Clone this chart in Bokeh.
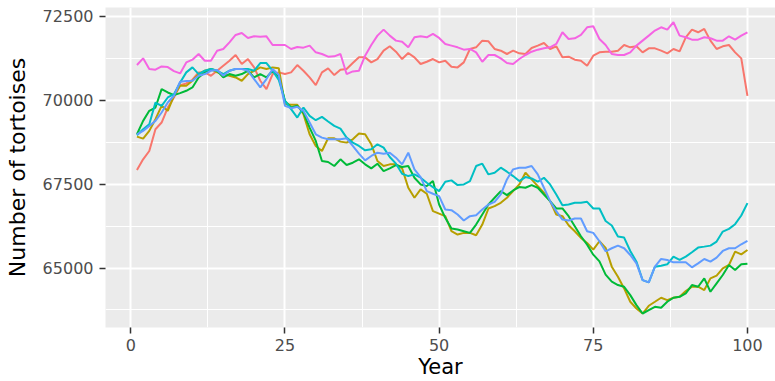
from bokeh.plotting import figure
from bokeh.models import FixedTicker, Range1d
from bokeh.embed import file_html
from bokeh.resources import INLINE

years = list(range(1, 101))

series_red = [67918, 68237, 68486, 69134, 69333, 69781, 70080, 70448, 70498, 70608,
              70827, 70827, 70727, 70876, 71026, 71175, 71345, 71076, 71225, 70976,
              70578, 70329, 70777, 70827, 70777, 70827, 71046, 70876, 70677, 70448,
              70827, 70946, 70747, 70906, 70926, 71106, 71275, 71275, 71125, 71225,
              71474, 71604, 71444, 71225, 71404, 71275, 71076, 71145, 71225, 71125,
              71175, 70996, 70976, 71125, 71524, 71574, 71773, 71753, 71524, 71474,
              71375, 71474, 71394, 71375, 71554, 71624, 71703, 71524, 71604, 71275,
              71295, 71205, 71175, 71026, 71325, 71424, 71444, 71444, 71474, 71643,
              71574, 71604, 71424, 71544, 71544, 71474, 71395, 71524, 71454, 71873,
              72102, 72022, 72122, 71773, 71524, 71604, 71643, 71424, 71245, 70130]

series_olive = [68914, 68854, 69084, 69433, 69831, 69682, 70130, 70428, 70428, 70578,
                70777, 70876, 70926, 70827, 70777, 70727, 70677, 70578, 70777, 70876,
                70976, 70926, 70976, 70950, 69880, 69861, 69861, 69582, 68984, 68635,
                68486, 68865, 68865, 68765, 68735, 68835, 69004, 68984, 68685, 68187,
                68038, 68088, 68088, 67968, 67390, 67092, 67341, 67211, 66693, 66620,
                66544, 66096, 65996, 66046, 66046, 65976, 66295, 66773, 66843, 66942,
                67092, 67291, 67490, 67839, 67639, 67440, 67241, 66992, 66594, 66544,
                66275, 66096, 65896, 65747, 65548, 65797, 65598, 65040, 64741, 64392,
                63994, 63795, 63645, 63875, 63994, 64114, 64044, 64114, 64143, 64313,
                64442, 64442, 64343, 64691, 64771, 64990, 65090, 65488, 65408, 65538]

series_green = [68984, 69383, 69682, 69781, 70329, 70229, 70150, 70209, 70279, 70378,
                70677, 70827, 70926, 70876, 70677, 70777, 70727, 70777, 70876, 70677,
                70777, 70677, 70876, 70700, 69980, 69781, 69831, 69631, 69183, 68785,
                68187, 68157, 68038, 68237, 68068, 68137, 68237, 68088, 67968, 68108,
                67888, 67968, 68068, 68008, 68038, 67689, 67490, 67440, 67590, 66892,
                66494, 66175, 66146, 66096, 66046, 66295, 66594, 66892, 67092, 67291,
                67171, 67311, 67410, 67390, 67470, 67390, 67191, 66992, 66773, 66773,
                66544, 66245, 65946, 65697, 65398, 65199, 64801, 64592, 64492, 64442,
                64193, 63894, 63645, 63745, 63845, 63815, 63994, 64114, 64143, 64243,
                64492, 64442, 64691, 64293, 64542, 64791, 65090, 64940, 65110, 65129]

series_cyan = [68954, 69134, 69283, 69930, 69831, 70080, 70179, 70528, 70827, 70976,
               70777, 70876, 70926, 70876, 70777, 70876, 70926, 70926, 70926, 70876,
               71106, 71106, 70876, 70600, 69980, 69731, 69482, 69781, 69532, 69402,
               69502, 69363, 69233, 69153, 68884, 68735, 68635, 68506, 68536, 68685,
               68586, 68307, 68108, 67809, 67739, 67789, 67689, 67540, 67410, 67291,
               67570, 67610, 67470, 67490, 67590, 68038, 68108, 67789, 67839, 67988,
               67869, 67739, 67590, 67709, 67669, 67570, 67689, 67490, 67191, 66873,
               66892, 66942, 66942, 66972, 66773, 66773, 66400, 66265, 65936, 65906,
               65508, 65189, 64641, 64572, 65040, 65070, 65110, 65339, 65239, 65339,
               65468, 65608, 65637, 65667, 65787, 66086, 66165, 66305, 66564, 66932]

series_blue = [68984, 69084, 69233, 69383, 69632, 69930, 70130, 70548, 70568, 70578,
               70727, 70777, 70876, 70896, 70727, 70876, 70926, 70926, 70876, 70628,
               70378, 70628, 70926, 70750, 69831, 69761, 69801, 69681, 69333, 68984,
               68884, 68835, 68835, 68835, 68865, 68635, 68406, 68207, 68337, 68436,
               68406, 68436, 68287, 68088, 68436, 67938, 67709, 67291, 67211, 67141,
               66743, 66723, 66594, 66414, 66544, 66574, 66743, 66892, 66972, 67191,
               67639, 67938, 67988, 67988, 68038, 67789, 67390, 66992, 66693, 66444,
               66414, 66474, 66474, 66096, 66046, 65797, 65498, 65588, 65667, 65588,
               65388, 65139, 64641, 64572, 65040, 65269, 65239, 65169, 65169, 65169,
               65020, 65139, 65269, 65189, 65309, 65508, 65588, 65588, 65707, 65807]

series_pink = [71046, 71245, 70926, 70906, 71006, 70986, 70866, 70796, 71125, 71205,
               71375, 71175, 71175, 71474, 71524, 71723, 71942, 72002, 71853, 71902,
               71892, 71902, 71643, 71643, 71643, 71524, 71584, 71564, 71623, 71425,
               71375, 71295, 71305, 71375, 70777, 70856, 70876, 71325, 71643, 71922,
               72102, 71922, 71773, 71743, 71574, 71873, 71902, 71873, 71972, 71853,
               71673, 71624, 71574, 71504, 71524, 71424, 71145, 71345, 71345, 71245,
               71106, 71076, 71225, 71345, 71444, 71504, 71544, 71574, 71673, 72022,
               71823, 71843, 71942, 72171, 72201, 71823, 71643, 71375, 71345, 71345,
               71424, 71624, 71773, 71922, 72072, 72171, 72102, 72321, 71922, 71873,
               71803, 71803, 71873, 71843, 71773, 71773, 71902, 71803, 71922, 72022]

all_series = [series_red, series_olive, series_green, series_cyan, series_blue, series_pink]
colors = ["#F8766D", "#B79F00", "#00BA38", "#00BFC4", "#619CFF", "#F564E3"]

x_ticks = [0, 25, 50, 75, 100]
x_minor = [12.5, 37.5, 62.5, 87.5]
y_ticks = [65000, 67500, 70000, 72500]
y_minor = [63750, 66250, 68750, 71250]

FONT = "DejaVu Sans"

p = figure(width=775, height=381, output_backend="svg", toolbar_location=None,
           x_range=Range1d(-4.1, 104.55), y_range=Range1d(63228, 72760),
           min_border_left=105, min_border_right=0, min_border_top=7, min_border_bottom=54)
p.background_fill_color = "#EBEBEB"
p.border_fill_color = "white"
p.outline_line_color = None

for ys, c in zip(all_series, colors):
    p.line(years, ys, line_color=c, line_width=2)

p.xaxis.ticker = FixedTicker(ticks=x_ticks, minor_ticks=x_minor)
p.yaxis.ticker = FixedTicker(ticks=y_ticks, minor_ticks=y_minor)

for g in (p.xgrid, p.ygrid):
    g.grid_line_color = "white"
    g.grid_line_width = 2
    g.minor_grid_line_color = "white"
    g.minor_grid_line_width = 1

for ax in (p.xaxis, p.yaxis):
    ax.axis_line_color = None
    ax.minor_tick_line_color = None
    ax.major_tick_line_color = "#333333"
    ax.major_tick_line_width = 1.5
    ax.major_tick_in = 0
    ax.major_tick_out = 6
    ax.major_label_text_font = FONT
    ax.major_label_text_font_size = "16px"
    ax.major_label_text_color = "#4D4D4D"
    ax.axis_label_text_font = FONT
    ax.axis_label_text_font_style = "normal"
    ax.axis_label_text_color = "black"

p.xaxis.axis_label = "Year"
p.yaxis.axis_label = "Number of tortoises"
p.xaxis.axis_label_text_font_size = "21px"
p.yaxis.axis_label_text_font_size = "22px"
p.xaxis.major_label_standoff = 5
p.xaxis.axis_label_standoff = 1
p.yaxis.major_label_standoff = 6
p.yaxis.axis_label_standoff = 10

open("out.html", "w").write(file_html(p, INLINE))
